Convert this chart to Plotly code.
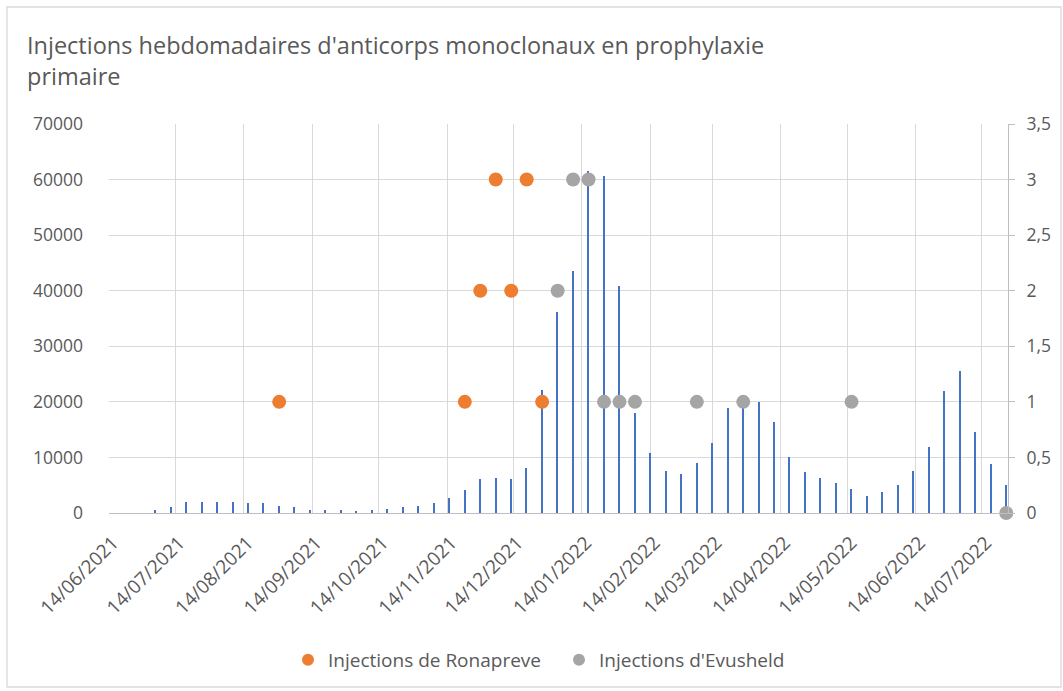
import plotly.graph_objects as go

# Weekly injections (bars, left axis)
week_dates = [
    "2021-07-05", "2021-07-12", "2021-07-19", "2021-07-26", "2021-08-02", "2021-08-09",
    "2021-08-16", "2021-08-23", "2021-08-30", "2021-09-06", "2021-09-13", "2021-09-20",
    "2021-09-27", "2021-10-04", "2021-10-11", "2021-10-18", "2021-10-25", "2021-11-01",
    "2021-11-08", "2021-11-15", "2021-11-22", "2021-11-29", "2021-12-06", "2021-12-13",
    "2021-12-20", "2021-12-27", "2022-01-03", "2022-01-10", "2022-01-17", "2022-01-24",
    "2022-01-31", "2022-02-07", "2022-02-14", "2022-02-21", "2022-02-28", "2022-03-07",
    "2022-03-14", "2022-03-21", "2022-03-28", "2022-04-04", "2022-04-11", "2022-04-18",
    "2022-04-25", "2022-05-02", "2022-05-09", "2022-05-16", "2022-05-23", "2022-05-30",
    "2022-06-06", "2022-06-13", "2022-06-20", "2022-06-27", "2022-07-04", "2022-07-11",
    "2022-07-18", "2022-07-25",
]
week_values = [
    500, 1000, 2000, 2000, 2000, 2000,
    1800, 1800, 1200, 1000, 600, 600,
    500, 400, 500, 800, 1000, 1200,
    1750, 2640, 4140, 6060, 6240, 6060,
    8040, 22140, 36120, 43560, 61560, 60720,
    40860, 17940, 10860, 7620, 6960, 8940,
    12540, 18960, 19500, 20040, 16320, 10140,
    7440, 6300, 5460, 4380, 3060, 3720,
    5040, 7620, 11820, 21960, 25560, 14640,
    8820, 5040,
]

# Ronapreve / Evusheld events (right axis)
rona_dates = ["2021-08-30", "2021-11-22", "2021-11-29", "2021-12-06", "2021-12-13", "2021-12-20", "2021-12-27"]
rona_values = [1, 1, 2, 3, 2, 3, 1]
evu_dates = ["2022-01-03", "2022-01-10", "2022-01-17", "2022-01-24", "2022-01-31", "2022-02-07",
             "2022-03-07", "2022-03-28", "2022-05-16", "2022-07-25"]
evu_values = [2, 3, 3, 1, 1, 1, 1, 1, 1, 0]

x_tick_vals = ["2021-06-14", "2021-07-14", "2021-08-14", "2021-09-14", "2021-10-14", "2021-11-14",
               "2021-12-14", "2022-01-14", "2022-02-14", "2022-03-14", "2022-04-14", "2022-05-14",
               "2022-06-14", "2022-07-14"]
x_tick_text = ["14/06/2021", "14/07/2021", "14/08/2021", "14/09/2021", "14/10/2021", "14/11/2021",
               "14/12/2021", "14/01/2022", "14/02/2022", "14/03/2022", "14/04/2022", "14/05/2022",
               "14/06/2022", "14/07/2022"]
y_tick_vals = [0, 10000, 20000, 30000, 40000, 50000, 60000, 70000]
y_tick_text = ["0", "10000", "20000", "30000", "40000", "50000", "60000", "70000"]
y2_tick_vals = [0, 0.5, 1, 1.5, 2, 2.5, 3, 3.5]
y2_tick_text = ["0", "0,5", "1", "1,5", "2", "2,5", "3", "3,5"]

FONT = "Open Sans"
GREY = "#595959"

fig = go.Figure()
fig.add_trace(go.Bar(
    x=week_dates, y=week_values, name="Injections hebdomadaires",
    marker=dict(color="#4472C4", line=dict(width=0)),
    width=0.65 * 86400000, showlegend=False, yaxis="y",
))
fig.add_trace(go.Scatter(
    x=rona_dates, y=rona_values, mode="markers", name="Injections de Ronapreve",
    marker=dict(color="#ED7D31", size=14), yaxis="y2", cliponaxis=False,
))
fig.add_trace(go.Scatter(
    x=evu_dates, y=evu_values, mode="markers", name="Injections d'Evusheld",
    marker=dict(color="#A5A5A5", size=14), yaxis="y2", cliponaxis=False,
))
# empty helper trace so the right-hand label axis is drawn
fig.add_trace(go.Scatter(
    x=[None], y=[None], mode="markers", yaxis="y3", showlegend=False, hoverinfo="skip",
))

fig.update_layout(
    width=1063, height=691,
    margin=dict(l=109, r=55, t=124, b=178, autoexpand=False),
    paper_bgcolor="white", plot_bgcolor="white",
    font=dict(family=FONT, color=GREY, size=17.5),
    title=dict(
        text="Injections hebdomadaires d'anticorps monoclonaux en prophylaxie<br>primaire",
        x=27 / 1063, xanchor="left", y=1 - 54 / 691, yanchor="top",
        font=dict(family=FONT, size=23.5, color=GREY),
    ),
    xaxis=dict(
        type="date", range=["2021-06-14", "2022-07-25 19:00"],
        tickvals=x_tick_vals, ticktext=x_tick_text, tickangle=-45,
        showgrid=True, gridcolor="#D9D9D9", gridwidth=1.4,
        showline=True, linecolor="#BFBFBF", linewidth=1.4,
        ticks="", zeroline=False, ticklabelstandoff=10, ticklabelshift=4,
        tickfont=dict(family=FONT, size=19, color=GREY), automargin=False,
    ),
    yaxis=dict(
        range=[0, 70000], tickvals=y_tick_vals, ticktext=y_tick_text,
        showgrid=True, gridcolor="#D9D9D9", gridwidth=1.4,
        showline=False, zeroline=False, ticks="",
        ticklabelstandoff=25, automargin=False,
        tickfont=dict(family=FONT, size=17.5, color=GREY),
    ),
    yaxis2=dict(
        range=[0, 3.5], tickvals=y2_tick_vals, showticklabels=False,
        overlaying="y", side="right", showgrid=False, zeroline=False,
        showline=True, linecolor="#BFBFBF", linewidth=1.4, automargin=False,
        ticks="outside", ticklen=6, tickcolor="#BFBFBF", tickwidth=1.4,
    ),
    yaxis3=dict(
        range=[0, 3.5], tickvals=y2_tick_vals, ticktext=y2_tick_text,
        overlaying="y", side="right", showgrid=False, zeroline=False, automargin=False,
        showline=False, ticks="outside", ticklen=14, tickcolor="rgba(0,0,0,0)",
        tickfont=dict(family=FONT, size=17.5, color=GREY),
    ),
    legend=dict(
        orientation="h", x=(288 - 109) / 899, xanchor="left", y=(513 - 660) / 389, yanchor="middle",
        font=dict(family=FONT, size=19, color=GREY), itemsizing="constant",
        traceorder="normal", entrywidth=226,
    ),
    bargap=0,
    shapes=[dict(type="rect", xref="paper", yref="paper",
                 x0=(7 - 109) / 899, x1=(1061 - 109) / 899,
                 y0=(513 - 687) / 389, y1=(513 - 7) / 389,
                 line=dict(color="#D9D9D9", width=1.3), fillcolor="rgba(0,0,0,0)", layer="below")],
)

fig.write_html("out.html", post_script="document.body.style.margin='0px';",
               config={"displayModeBar": False})
